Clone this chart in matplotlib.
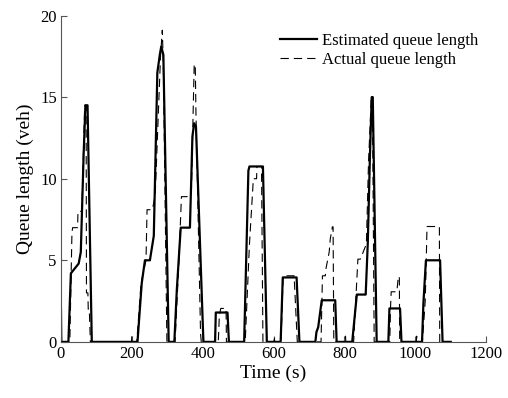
import matplotlib
matplotlib.use("Agg")
import matplotlib.pyplot as plt

plt.rcParams['font.family'] = ['Liberation Serif', 'DejaVu Serif']
plt.rcParams['lines.scale_dashes'] = False

# Estimated queue length (solid)
est_t = [0, 1, 21, 28, 50, 56, 64, 69, 75, 87,
         216, 228, 237, 251, 262, 272, 279, 283, 289, 304,
         320, 327, 338, 364, 371, 376, 381, 402,
         435, 437, 470, 474,
         517, 529, 532, 570, 581,
         620, 626, 665, 673,
         718, 721, 726, 736, 774, 778,
         822, 835, 860, 866, 872, 877, 880, 891,
         924, 927, 957, 961,
         1019, 1023, 1030, 1070, 1077, 1100]
est_v = [2, 0, 0, 4.2, 4.8, 5.5, 11.5, 14.5, 14.5, 0,
         0, 3.6, 5.0, 5.0, 6.5, 16.5, 17.6, 18.1, 17.6, 0,
         0, 3.2, 7.0, 7.0, 12.6, 13.4, 13.2, 0,
         0, 1.8, 1.8, 0,
         0, 10.5, 10.75, 10.75, 0,
         0, 3.95, 3.95, 0,
         0, 0.6, 0.9, 2.55, 2.55, 0,
         0, 2.9, 2.9, 6.1, 11.4, 15.0, 15.0, 0,
         0, 2.05, 2.05, 0,
         0, 2.4, 5.0, 5.0, 0, 0]

# Actual queue length (dashed)
act_t = [0, 25, 31, 33, 47, 48, 59, 67, 71, 72, 76, 77, 80, 83,
         199, 200, 201,
         214, 226, 240, 243, 258, 266, 281, 286, 289, 299,
         322, 333, 340, 356, 362, 368, 376, 379, 381, 394, 396,
         444, 447, 451, 466, 467,
         520, 532, 543, 552, 553, 566, 570,
         601, 602, 603,
         621, 627, 658, 667,
         734, 738, 746, 748, 757, 760, 766, 768, 770,
         802, 803, 804,
         826, 838, 845, 862, 868, 876, 879, 884,
         928, 930, 932, 948, 952, 955, 956,
         1003, 1004, 1005,
         1020, 1028, 1031, 1033, 1068, 1069, 1100]
act_v = [0, 0, 6.7, 7.0, 7.0, 8.0, 8.0, 14.5, 14.5, 3.0, 3.0, 2.0, 2.0, 0,
         0, 0.35, 0,
         0, 3.6, 5.0, 8.1, 8.1, 9.0, 17.5, 19.1, 17.0, 0,
         0, 5.0, 8.9, 8.9, 9.1, 9.1, 17.0, 17.0, 14.0, 0.5, 0,
         0, 1.6, 2.05, 2.05, 0,
         0, 6.0, 10.0, 10.0, 10.75, 10.75, 0,
         0, 0.35, 0,
         0, 4.05, 4.05, 0,
         0, 4.05, 4.05, 4.5, 5.5, 6.3, 7.05, 7.05, 0,
         0, 0.35, 0,
         0, 5.07, 5.07, 6.0, 11.0, 15.05, 15.05, 0,
         0, 2.05, 3.07, 3.07, 4.0, 4.0, 0,
         0, 0.35, 0,
         0, 2.5, 5.0, 7.07, 7.07, 0, 0]

xticks = [0, 200, 400, 600, 800, 1000, 1200]
yticks = [0, 5, 10, 15, 20]

fig = plt.figure(figsize=(5.08, 3.98), dpi=100)
ax = fig.add_axes([0.120, 0.141, 0.837, 0.820])

ax.plot(est_t, est_v, color='black', lw=1.6, label='Estimated queue length', zorder=2)
ax.plot(act_t, act_v, color='black', lw=0.8, linestyle=(0, (6, 3.6)),
        label='Actual queue length', zorder=3)

ax.set_xlim(0, 1200)
ax.set_ylim(0, 20)
ax.set_xticks(xticks)
ax.set_yticks(yticks)
ax.tick_params(direction='in', length=4, width=0.8, color='#555555',
               labelsize=12, pad=3)
for s in ['top', 'right']:
    ax.spines[s].set_visible(False)
for s in ['left', 'bottom']:
    ax.spines[s].set_color('#555555')
    ax.spines[s].set_linewidth(0.8)

ax.set_xlabel('Time (s)', fontsize=14, labelpad=2)
ax.set_ylabel('Queue length (veh)', fontsize=14, labelpad=4)

ax.legend(loc='upper left', bbox_to_anchor=(0.515, 0.946), frameon=False,
          fontsize=12, handlelength=2.2, handletextpad=0.3, labelspacing=0.15,
          borderpad=0, borderaxespad=0)

fig.savefig('out.png', dpi=100)
